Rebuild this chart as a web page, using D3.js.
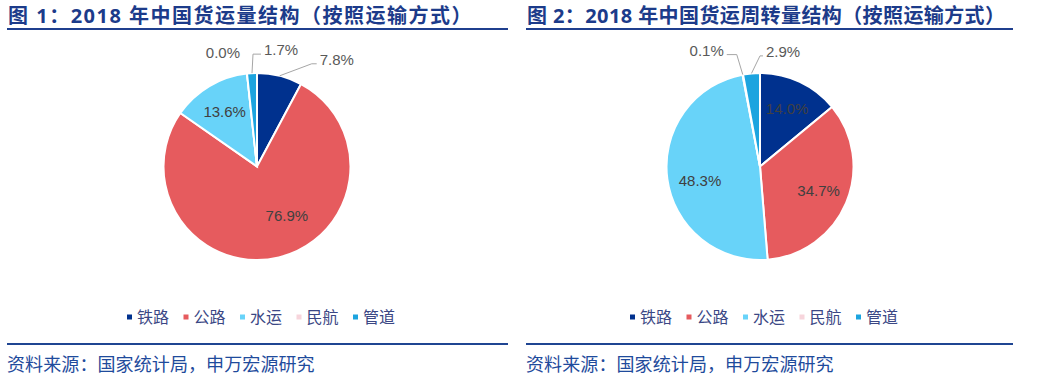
<!DOCTYPE html>
<html>
<head>
<meta charset="utf-8">
<script src="https://cdn.jsdelivr.net/npm/d3@7"></script>
<style>
  body { margin: 0; background: #fff; }
  svg { display: block; }
</style>
</head>
<body>
<script>
// data
var categories = ['铁路', '公路', '水运', '民航', '管道'];
var volumeShare = [7.8, 76.9, 13.6, 0.0, 1.7];      // 货运量
var turnoverShare = [14.0, 34.7, 48.3, 0.1, 2.9];   // 货运周转量
var titles = [
  '图 1：2018 年中国货运量结构（按照运输方式）',
  '图 2：2018 年中国货运周转量结构（按照运输方式）'
];
var sourceText = '资料来源：国家统计局，申万宏源研究';

var colors = ['#00318E', '#E65B5E', '#68D3F9', '#F7D5DC', '#1CA4DF'];
var color = d3.scaleOrdinal().domain(categories).range(colors);

var W = 1057, H = 385;
var svg = d3.select('body').append('svg')
  .attr('width', W)
  .attr('height', H);

// layout for the two panels; callouts are offsets from the slice edge
var panels = [
  {
    x0: 7, x1: 508, cx: 257, cy: 166.5, legendX: 127, titleSpacing: 1.5,
    values: volumeShare, title: titles[0],
    nudge: { '公路': [15, -13] },
    callouts: {
      '民航': { dx: -4, dy: -17, run: 0, side: -1, line: false },
      '管道': { dx: 1, dy: -19, run: 8, side: 1, line: true },
      '铁路': { dx: 32, dy: -12, run: 5, side: 1, line: true }
    }
  },
  {
    x0: 526, x1: 1013, cx: 760, cy: 166.5, legendX: 630, titleSpacing: 0.4,
    values: turnoverShare, title: titles[1],
    nudge: { '水运': [3, 6] },
    callouts: {
      '民航': { dx: -6, dy: -20, run: 10, side: -1, line: true },
      '管道': { dx: 8.5, dy: -17.5, run: 3, side: 1, line: true }
    }
  }
];

var radius = 93.5;
var pie = d3.pie().sort(null).value(function(d) { return d.value; });
var arc = d3.arc().innerRadius(0).outerRadius(radius);
var labelArc = d3.arc().innerRadius(radius * 0.68).outerRadius(radius * 0.68);
var edgeArc = d3.arc().innerRadius(radius).outerRadius(radius);

var cjk = '"Noto Sans", "Noto Sans CJK SC", sans-serif';

panels.forEach(function(p) {
  var g = svg.append('g');

  // title + rule
  g.append('text')
    .attr('x', p.x0 + 1)
    .attr('y', 23)
    .style('font-family', cjk)
    .style('font-weight', 'bold')
    .style('font-size', '20px')
    .style('letter-spacing', p.titleSpacing + 'px')
    .style('fill', '#1C3B8A')
    .text(p.title);

  g.append('line')
    .attr('x1', p.x0).attr('x2', p.x1)
    .attr('y1', 29).attr('y2', 29)
    .style('stroke', '#1F3F8E')
    .style('stroke-width', 2);

  // footer rule + source
  g.append('line')
    .attr('x1', p.x0).attr('x2', p.x1)
    .attr('y1', 344).attr('y2', 344)
    .style('stroke', '#1F4592')
    .style('stroke-width', 2);

  g.append('text')
    .attr('x', p.x0)
    .attr('y', 371)
    .style('font-family', cjk)
    .style('font-size', '18px')
    .style('letter-spacing', '0.1px')
    .style('fill', '#1F4B9C')
    .text(sourceText);

  var data = categories.map(function(c, i) { return { name: c, value: p.values[i] }; });
  var arcs = pie(data);

  var pieG = g.append('g')
    .attr('transform', 'translate(' + p.cx + ',' + p.cy + ')');

  pieG.selectAll('path')
    .data(arcs)
    .enter().append('path')
    .attr('d', arc)
    .style('fill', function(d) { return color(d.data.name); })
    .style('stroke', '#fff')
    .style('stroke-width', 2);

  // labels inside the bigger slices
  pieG.selectAll('.inLabel')
    .data(arcs.filter(function(d) { return !p.callouts[d.data.name]; }))
    .enter().append('text')
    .attr('x', function(d) { return labelArc.centroid(d)[0] + (p.nudge[d.data.name] || [0, 0])[0]; })
    .attr('y', function(d) { return labelArc.centroid(d)[1] + (p.nudge[d.data.name] || [0, 0])[1]; })
    .attr('dy', '0.35em')
    .style('text-anchor', 'middle')
    .style('font-family', '"Liberation Sans", Arial, sans-serif')
    .style('font-size', '15px')
    .style('fill', '#404040')
    .text(function(d) { return d.data.value.toFixed(1) + '%'; });

  // callouts for the small slices
  arcs.filter(function(d) { return p.callouts[d.data.name]; }).forEach(function(d) {
    var c = p.callouts[d.data.name];
    var a = edgeArc.centroid(d);
    var ex = a[0] + c.dx, ey = a[1] + c.dy;
    var endX = ex + c.side * c.run;
    if (c.line) {
      pieG.append('polyline')
        .attr('points', [[a[0], a[1]], [ex, ey], [endX, ey]].map(function(q) { return q.join(','); }).join(' '))
        .style('fill', 'none')
        .style('stroke', '#A6A6A6')
        .style('stroke-width', 1);
    }
    pieG.append('text')
      .attr('x', endX + c.side * 3)
      .attr('y', ey + 1)
      .style('text-anchor', c.side < 0 ? 'end' : 'start')
      .style('font-family', '"Liberation Sans", Arial, sans-serif')
      .style('font-size', '15px')
      .style('fill', '#595959')
      .text(d.data.value.toFixed(1) + '%');
  });

  // legend
  var legend = g.append('g')
    .attr('transform', 'translate(' + p.legendX + ',317)');

  var item = legend.selectAll('.item')
    .data(categories)
    .enter().append('g')
    .attr('transform', function(d, i) { return 'translate(' + (i * 56.5) + ',0)'; });

  item.append('rect')
    .attr('x', 0).attr('y', -2.5)
    .attr('width', 5).attr('height', 5)
    .style('fill', function(d) { return color(d); });

  item.append('text')
    .attr('x', 10)
    .attr('dy', '0.36em')
    .style('font-family', cjk)
    .style('font-size', '16px')
    .style('fill', '#3B4785')
    .text(function(d) { return d; });
});
</script>
</body>
</html>
